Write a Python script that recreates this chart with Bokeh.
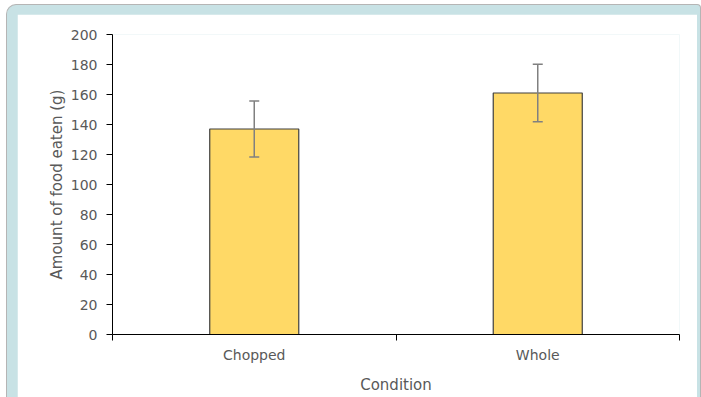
from bokeh.plotting import figure
from bokeh.layouts import column
from bokeh.models import FixedTicker, Range1d, Whisker, ColumnDataSource, TeeHead
from bokeh.embed import file_html
from bokeh.resources import INLINE

categories = ["Chopped", "Whole"]
amounts = [137, 161]
errors = [18.7, 19.2]
y_ticks = [0, 20, 40, 60, 80, 100, 120, 140, 160, 180, 200]

xs = [i + 0.5 for i in range(len(categories))]
src = ColumnDataSource(dict(
    x=xs, top=amounts,
    lower=[a - e for a, e in zip(amounts, errors)],
    upper=[a + e for a, e in zip(amounts, errors)],
))

FONT = "DejaVu Sans"
TXT = "#595959"

p = figure(width=680, height=383, output_backend="svg", toolbar_location=None,
           x_range=Range1d(0, len(categories)), y_range=Range1d(0, 200),
           min_border_left=95, min_border_right=18, min_border_top=20, min_border_bottom=63)
p.outline_line_color = None
p.xgrid.visible = False
p.ygrid.visible = False
p.background_fill_color = "white"
p.border_fill_color = "white"
p.margin = (9, 3, 0, 10)

p.vbar(x="x", top="top", width=0.314, source=src,
       fill_color="#FFD966", line_color="#3F3F3F", line_width=1.2)
w = Whisker(base="x", lower="lower", upper="upper", source=src,
            line_color="#808080", line_width=1.5, level="overlay",
            upper_head=TeeHead(size=10, line_color="#808080", line_width=1.5),
            lower_head=TeeHead(size=10, line_color="#808080", line_width=1.5))
p.add_layout(w)

# y axis
ya = p.yaxis[0]
ya.ticker = FixedTicker(ticks=y_ticks)
ya.minor_tick_line_color = None
ya.major_tick_out = 6
ya.major_tick_in = 0
ya.major_tick_line_color = "black"
ya.axis_line_color = "black"
ya.major_label_text_font = FONT
ya.major_label_text_font_size = "14px"
ya.major_label_text_color = TXT
ya.major_label_standoff = 9
ya.axis_label = "Amount of food eaten (g)"
ya.axis_label_text_font = FONT
ya.axis_label_text_font_size = "15px"
ya.axis_label_text_font_style = "normal"
ya.axis_label_text_color = TXT
ya.axis_label_standoff = 2

# x axis
xa = p.xaxis[0]
xa.ticker = FixedTicker(ticks=xs, minor_ticks=list(range(len(categories) + 1)))
xa.major_label_overrides = {x: c for x, c in zip(xs, categories)}
xa.major_tick_out = 0
xa.major_tick_in = 0
xa.minor_tick_out = 6
xa.minor_tick_in = 0
xa.minor_tick_line_color = "black"
xa.axis_line_color = "black"
xa.major_label_text_font = FONT
xa.major_label_text_font_size = "14px"
xa.major_label_text_color = TXT
xa.major_label_standoff = 6
xa.axis_label = "Condition"
xa.axis_label_text_font = FONT
xa.axis_label_text_font_size = "15px"
xa.axis_label_text_font_style = "normal"
xa.axis_label_text_color = TXT
xa.axis_label_standoff = 10

layout = column(p, margin=(4, 0, 0, 6), styles={
    "background-color": "#C8E2E5",
    "border-top": "1px solid #B5B5B5",
    "border-left": "1px solid #B5B5B5",
    "border-right": "1px solid #B5B5B5",
    "border-top-left-radius": "10px",
    "border-top-right-radius": "4px",
})

open("out.html", "w").write(file_html(layout, INLINE))
